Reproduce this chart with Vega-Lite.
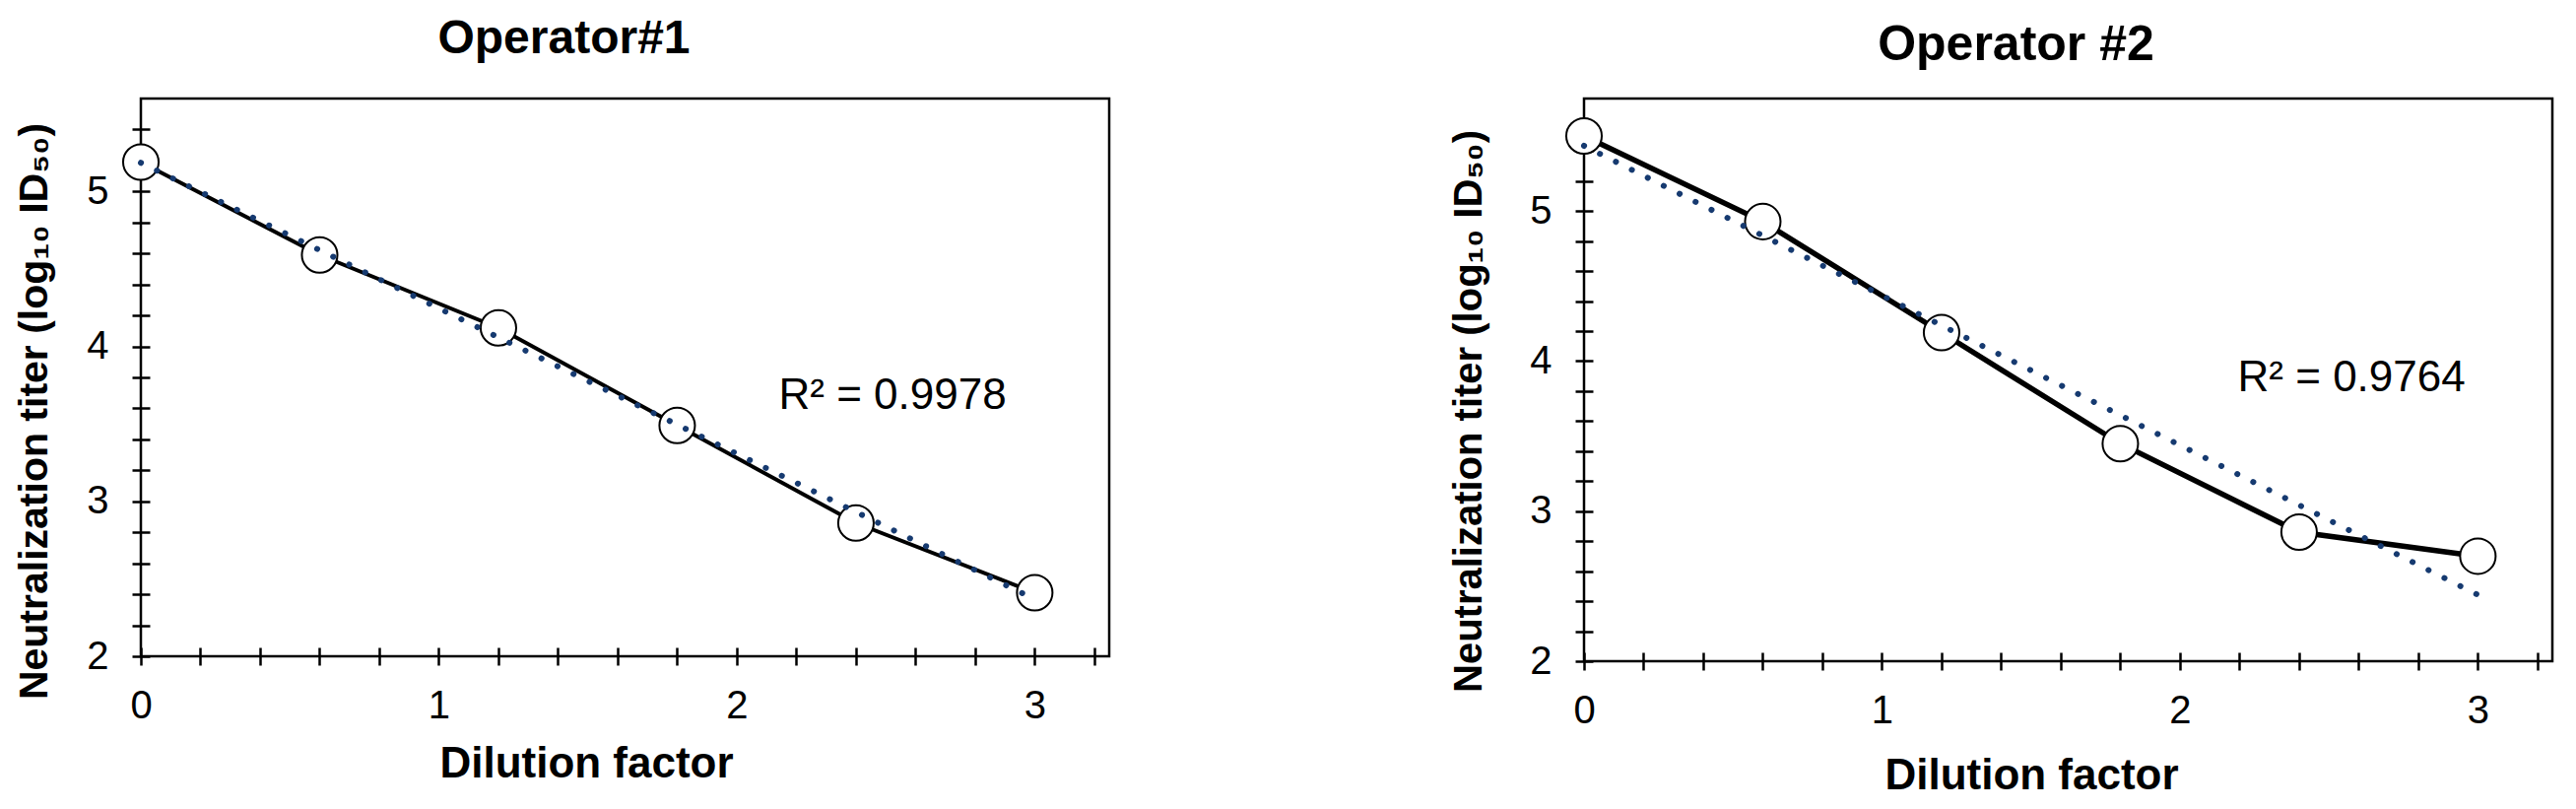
{
  "$schema": "https://vega.github.io/schema/vega-lite/v6.json",
  "background": "white",
  "padding": {"left": 12, "top": 13, "right": 10, "bottom": 5},
  "bounds": "flush",
  "spacing": 482,
  "datasets": {
    "op1": [
      {"dilution": 0, "titer": 5.19},
      {"dilution": 0.6, "titer": 4.59},
      {"dilution": 1.2, "titer": 4.12},
      {"dilution": 1.8, "titer": 3.49},
      {"dilution": 2.4, "titer": 2.86},
      {"dilution": 3.0, "titer": 2.41}
    ],
    "op2": [
      {"dilution": 0, "titer": 5.5},
      {"dilution": 0.6, "titer": 4.93},
      {"dilution": 1.2, "titer": 4.19},
      {"dilution": 1.8, "titer": 3.45},
      {"dilution": 2.4, "titer": 2.86},
      {"dilution": 3.0, "titer": 2.7}
    ],
    "fit1": [
      {"dilution": 0, "titer": 5.185},
      {"dilution": 3, "titer": 2.368}
    ],
    "fit2": [
      {"dilution": 0, "titer": 5.435},
      {"dilution": 3, "titer": 2.442}
    ]
  },
  "config": {
    "font": "Liberation Sans",
    "view": {"stroke": "black", "strokeWidth": 2.5},
    "axis": {
      "grid": false,
      "domain": false,
      "ticks": true,
      "tickColor": "black",
      "tickWidth": 2.5,
      "tickSize": 18,
      "offset": -9,
      "labelFont": "Liberation Sans",
      "labelFontSize": 40,
      "labelColor": "black",
      "labelFlush": false,
      "labelOverlap": false,
      "labelBound": false,
      "titleFont": "Liberation Sans",
      "titleFontSize": 44,
      "titleFontWeight": "bold",
      "titleColor": "black",
      "titleBaseline": "alphabetic"
    }
  },
  "hconcat": [
    {
      "width": 983,
      "height": 566,
      "resolve": {"axis": {"x": "independent", "y": "independent"}},
      "layer": [
        {
          "data": {"name": "op1"},
          "mark": {"type": "line", "color": "black", "strokeWidth": 4},
          "encoding": {
            "x": {"field": "dilution", "type": "quantitative", "scale": {"domain": [0, 3.25], "nice": false, "zero": false},
              "axis": {"orient": "bottom", "title": "Dilution factor", "values": [0,0.2,0.4,0.6,0.8,1,1.2,1.4,1.6,1.8,2,2.2,2.4,2.6,2.8,3,3.2],
                "format": ".0f", "labelOverlap": false,
                "labelExpr": "(datum.value == 0 || datum.value == 1 || datum.value == 2 || datum.value == 3) ? datum.label : ''",
                "labelPadding": 21, "titleX": 452, "titleY": 131}},
            "y": {"field": "titer", "type": "quantitative", "scale": {"domain": [2, 5.6], "nice": false, "zero": false},
              "axis": {"orient": "left", "title": "Neutralization titer (log₁₀ ID₅₀)", "titleFontSize": 41, "values": [2, 3, 4, 5],
                "format": ".0f", "labelOverlap": false,
                "labelPadding": 24, "titleX": -105, "titleY": 317}}
          }
        },
        {
          "data": {"name": "op1"},
          "mark": {"type": "point", "shape": "circle", "filled": true, "fill": "white", "stroke": "black", "strokeWidth": 2, "size": 1300, "opacity": 1},
          "encoding": {
            "x": {"field": "dilution", "type": "quantitative",
              "axis": {"orient": "top", "title": "Operator#1", "ticks": false, "labels": false, "domain": false, "offset": 0,
                "titleFontSize": 48, "titleAlign": "center", "titleBaseline": "alphabetic", "titleX": 429, "titleY": -47}},
            "y": {"field": "titer", "type": "quantitative",
              "axis": {"orient": "left", "title": null, "labels": false, "values": [2.2,2.4,2.6,2.8,3.2,3.4,3.6,3.8,4.2,4.4,4.6,4.8,5.2,5.4]}}
          }
        },
        {
          "data": {"name": "fit1"},
          "mark": {"type": "line", "color": "#163A70", "strokeWidth": 6, "strokeDash": [0.1, 18], "strokeCap": "round"},
          "encoding": {
            "x": {"field": "dilution", "type": "quantitative", "axis": null},
            "y": {"field": "titer", "type": "quantitative", "axis": null}
          }
        },
        {
          "data": {"values": [{"label": "R² = 0.9978"}]},
          "mark": {"type": "text", "font": "Liberation Sans", "fontSize": 44, "align": "center", "baseline": "alphabetic", "color": "black"},
          "encoding": {
            "x": {"datum": 2.523, "type": "quantitative", "axis": null},
            "y": {"datum": 3.596, "type": "quantitative", "axis": null},
            "text": {"field": "label"}
          }
        }
      ]
    },
    {
      "width": 983,
      "height": 571,
      "resolve": {"axis": {"x": "independent", "y": "independent"}},
      "layer": [
        {
          "data": {"name": "op2"},
          "mark": {"type": "line", "color": "black", "strokeWidth": 5.5},
          "encoding": {
            "x": {"field": "dilution", "type": "quantitative", "scale": {"domain": [0, 3.25], "nice": false, "zero": false},
              "axis": {"orient": "bottom", "title": "Dilution factor", "values": [0,0.2,0.4,0.6,0.8,1,1.2,1.4,1.6,1.8,2,2.2,2.4,2.6,2.8,3,3.2],
                "format": ".0f", "labelOverlap": false,
                "labelExpr": "(datum.value == 0 || datum.value == 1 || datum.value == 2 || datum.value == 3) ? datum.label : ''",
                "labelPadding": 21, "titleX": 454, "titleY": 138}},
            "y": {"field": "titer", "type": "quantitative", "scale": {"domain": [2, 5.75], "nice": false, "zero": false},
              "axis": {"orient": "left", "title": "Neutralization titer (log₁₀ ID₅₀)", "titleFontSize": 40, "values": [2, 3, 4, 5],
                "format": ".0f", "labelOverlap": false,
                "labelPadding": 24, "titleX": -114, "titleY": 317}}
          }
        },
        {
          "data": {"name": "op2"},
          "mark": {"type": "point", "shape": "circle", "filled": true, "fill": "white", "stroke": "black", "strokeWidth": 2, "size": 1300, "opacity": 1},
          "encoding": {
            "x": {"field": "dilution", "type": "quantitative",
              "axis": {"orient": "top", "title": "Operator #2", "ticks": false, "labels": false, "domain": false, "offset": 0,
                "titleFontSize": 50, "titleAlign": "center", "titleBaseline": "alphabetic", "titleX": 438, "titleY": -40}},
            "y": {"field": "titer", "type": "quantitative",
              "axis": {"orient": "left", "title": null, "labels": false, "values": [2.2,2.4,2.6,2.8,3.2,3.4,3.6,3.8,4.2,4.4,4.6,4.8,5.2,5.4,5.6]}}
          }
        },
        {
          "data": {"name": "fit2"},
          "mark": {"type": "line", "color": "#163A70", "strokeWidth": 6, "strokeDash": [0.1, 18], "strokeCap": "round"},
          "encoding": {
            "x": {"field": "dilution", "type": "quantitative", "axis": null},
            "y": {"field": "titer", "type": "quantitative", "axis": null}
          }
        },
        {
          "data": {"values": [{"label": "R² = 0.9764"}]},
          "mark": {"type": "text", "font": "Liberation Sans", "fontSize": 44, "align": "center", "baseline": "alphabetic", "color": "black"},
          "encoding": {
            "x": {"datum": 2.576, "type": "quantitative", "axis": null},
            "y": {"datum": 3.8, "type": "quantitative", "axis": null},
            "text": {"field": "label"}
          }
        }
      ]
    }
  ]
}
